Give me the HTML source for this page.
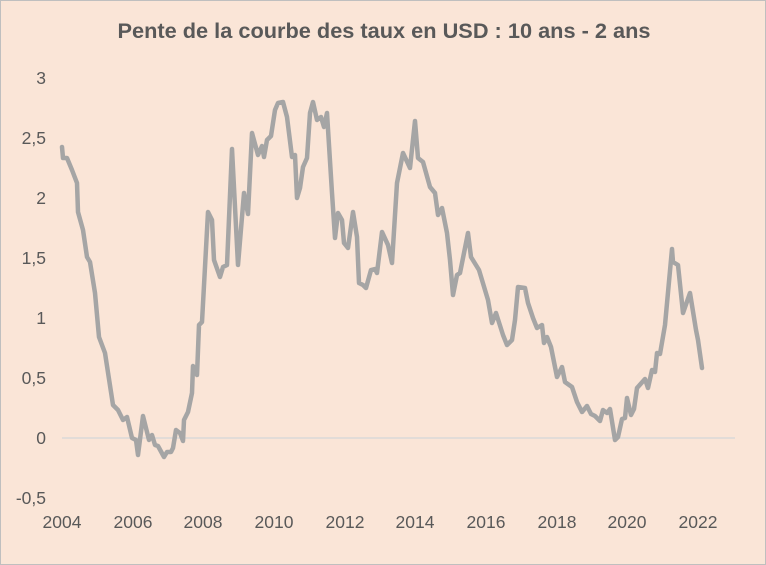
<!DOCTYPE html>
<html><head><meta charset="utf-8"><style>
html,body{margin:0;padding:0;}
body{width:766px;height:565px;overflow:hidden;background:#fbe5d6;}
svg{display:block;}
text{font-family:"Liberation Sans",Arial,sans-serif;fill:#595959;}
</style></head><body>
<svg width="766" height="565" viewBox="0 0 766 565">
<rect x="0.5" y="0.5" width="765" height="564" fill="#fae5d7" stroke="#bfbfbf"/>
<text x="384" y="38" font-size="21" font-weight="bold" text-anchor="middle" textLength="533" lengthAdjust="spacingAndGlyphs">Pente de la courbe des taux en USD : 10 ans - 2 ans</text>
<g font-size="17.5" text-anchor="end">
<text x="46" y="84">3</text>
<text x="46" y="144">2,5</text>
<text x="46" y="204">2</text>
<text x="46" y="264">1,5</text>
<text x="46" y="324">1</text>
<text x="46" y="384">0,5</text>
<text x="46" y="444">0</text>
<text x="46" y="504">-0,5</text>
</g>
<g font-size="17.5" text-anchor="middle">
<text x="62" y="528">2004</text>
<text x="133" y="528">2006</text>
<text x="203" y="528">2008</text>
<text x="274" y="528">2010</text>
<text x="345" y="528">2012</text>
<text x="415" y="528">2014</text>
<text x="486" y="528">2016</text>
<text x="557" y="528">2018</text>
<text x="627" y="528">2020</text>
<text x="698" y="528">2022</text>
</g>
<line x1="62" y1="438" x2="735" y2="438" stroke="#d9d9d9" stroke-width="1.5"/>
<polyline fill="none" stroke="#a5a5a5" stroke-width="4.5" stroke-linejoin="round" stroke-linecap="round" points="62,147 63,158 67,158 72,170 77,183 78,212 83,230 87,257 90,262 95,293 99,337 105,353 113,405 118,410 123,420 127,417 132,438 136,440 138,455 143,416 149,440 152,435 155,445 158,446 164,457 167,452 171,452 173,448 176,430 180,433 183,441 184,420 188,412 192,393 193,366 197,375 199,325 202,322 208,212 212,220 214,260 220,277 223,267 227,265 232,149 238,265 244,193 248,214 252,133 258,155 262,146 264,157 267,140 271,136 275,110 278,103 283,102 287,117 292,157 295,155 297,198 300,188 303,167 307,158 310,113 313,102 317,120 321,117 324,127 327,113 332,193 335,238 338,213 342,220 344,243 348,248 353,212 357,237 359,283 363,285 366,288 371,270 375,269 377,273 382,232 388,245 392,263 397,183 403,153 410,168 415,121 418,158 423,162 430,187 435,193 438,215 442,208 447,233 450,260 453,295 457,275 460,273 468,233 471,257 479,270 485,290 488,300 492,323 496,313 503,335 507,345 512,340 515,320 518,287 525,288 528,303 533,318 537,328 542,325 544,343 547,337 551,347 557,377 562,367 565,382 572,387 577,402 582,412 587,406 591,414 595,416 600,421 603,410 607,413 610,409 615,440 618,437 622,419 625,418 627,398 631,415 634,409 637,388 645,379 648,388 652,370 655,372 657,353 660,354 665,325 672,249 673,262 678,265 683,313 690,293 696,330 698,340 702,368"/>
</svg>
</body></html>
